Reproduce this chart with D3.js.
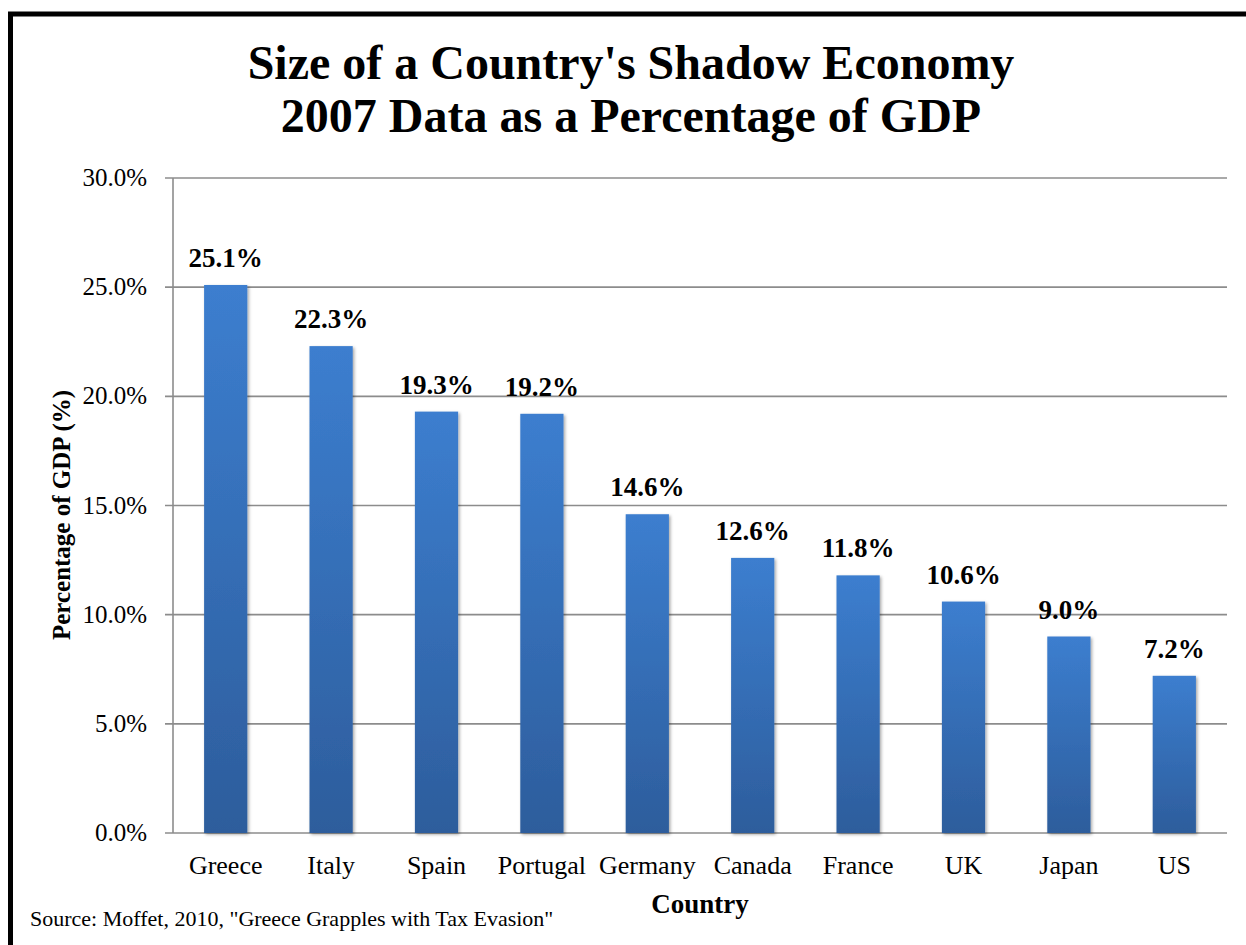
<!DOCTYPE html>
<html>
<head>
<meta charset="utf-8">
<script src="https://cdn.jsdelivr.net/npm/d3@7"></script>
<style>
  html, body { margin: 0; padding: 0; background: #fff; }
  svg { display: block; }
  text { font-family: "Liberation Serif", "Times New Roman", serif; fill: #000; }
</style>
</head>
<body>
<svg id="chart" width="1246" height="945"></svg>
<script>
// Shadow economy size, 2007, as % of GDP
const countries = ["Greece", "Italy", "Spain", "Portugal", "Germany", "Canada", "France", "UK", "Japan", "US"];
const shadowShare = [25.1, 22.3, 19.3, 19.2, 14.6, 12.6, 11.8, 10.6, 9.0, 7.2];
const yTicks = [0, 5, 10, 15, 20, 25, 30];
const titleLines = ["Size of a Country's Shadow Economy", "2007 Data as a Percentage of GDP"];

const svg = d3.select("#chart");
const margin = { left: 173, right: 1227, top: 178, bottom: 833 };

// outer frame
svg.append("rect")
  .attr("x", 10.5).attr("y", 14)
  .attr("width", 1300).attr("height", 1000)
  .attr("fill", "none").attr("stroke", "#000").attr("stroke-width", 5);

const defs = svg.append("defs");
const grad = defs.append("linearGradient")
  .attr("id", "barGrad").attr("x1", 0).attr("y1", 0).attr("x2", 0).attr("y2", 1);
grad.append("stop").attr("offset", "0%").attr("stop-color", "#3c7ecf");
grad.append("stop").attr("offset", "100%").attr("stop-color", "#2d5d9c");

const shadow = defs.append("filter").attr("id", "barShadow")
  .attr("x", "-20%").attr("y", "-5%").attr("width", "140%").attr("height", "110%");
shadow.append("feDropShadow")
  .attr("dx", 1.5).attr("dy", 1.5).attr("stdDeviation", 1.8)
  .attr("flood-color", "#000").attr("flood-opacity", 0.35);

const x = d3.scaleBand()
  .domain(countries)
  .range([margin.left, margin.right])
  .paddingInner(0.59).paddingOuter(0.295);

const y = d3.scaleLinear()
  .domain([0, 30])
  .range([margin.bottom, margin.top]);

// gridlines
svg.append("g")
  .selectAll("line")
  .data(yTicks)
  .join("line")
  .attr("x1", margin.left - 8).attr("x2", margin.right)
  .attr("y1", d => y(d)).attr("y2", d => y(d))
  .attr("stroke", "#8c8c8c").attr("stroke-width", 1.6);

// y axis line
svg.append("line")
  .attr("x1", margin.left).attr("x2", margin.left)
  .attr("y1", y(30)).attr("y2", y(0))
  .attr("stroke", "#8c8c8c").attr("stroke-width", 1.6);

// y tick labels
svg.append("g")
  .selectAll("text")
  .data(yTicks)
  .join("text")
  .attr("x", 147).attr("y", d => y(d) + 8)
  .attr("text-anchor", "end")
  .attr("font-size", 25)
  .text(d => d3.format(".1f")(d) + "%");

// bars
svg.append("g")
  .selectAll("rect")
  .data(shadowShare)
  .join("rect")
  .attr("x", (d, i) => x(countries[i]))
  .attr("width", x.bandwidth())
  .attr("y", d => y(d))
  .attr("height", d => y(0) - y(d))
  .attr("fill", "url(#barGrad)")
  .attr("filter", "url(#barShadow)");

// value labels
svg.append("g")
  .selectAll("text")
  .data(shadowShare)
  .join("text")
  .attr("x", (d, i) => x(countries[i]) + x.bandwidth() / 2)
  .attr("y", d => y(d) - 18)
  .attr("text-anchor", "middle")
  .attr("font-size", 27).attr("font-weight", "bold")
  .text(d => d3.format(".1f")(d) + "%");

// category labels
svg.append("g")
  .selectAll("text")
  .data(countries)
  .join("text")
  .attr("x", d => x(d) + x.bandwidth() / 2)
  .attr("y", 874)
  .attr("text-anchor", "middle")
  .attr("font-size", 26)
  .text(d => d);

// title
svg.append("g")
  .selectAll("text")
  .data(titleLines)
  .join("text")
  .attr("x", 631).attr("y", (d, i) => 79 + i * 53)
  .attr("text-anchor", "middle")
  .attr("font-size", 48).attr("font-weight", "bold")
  .text(d => d);

// axis titles
svg.append("text")
  .attr("x", 700).attr("y", 913)
  .attr("text-anchor", "middle")
  .attr("font-size", 27).attr("font-weight", "bold")
  .text("Country");

svg.append("text")
  .attr("transform", "translate(70,515) rotate(-90)")
  .attr("text-anchor", "middle")
  .attr("font-size", 25).attr("font-weight", "bold")
  .text("Percentage of GDP (%)");

// source note
svg.append("text")
  .attr("x", 30).attr("y", 926)
  .attr("font-size", 22)
  .text("Source: Moffet, 2010, \"Greece Grapples with Tax Evasion\"");
</script>
</body>
</html>
